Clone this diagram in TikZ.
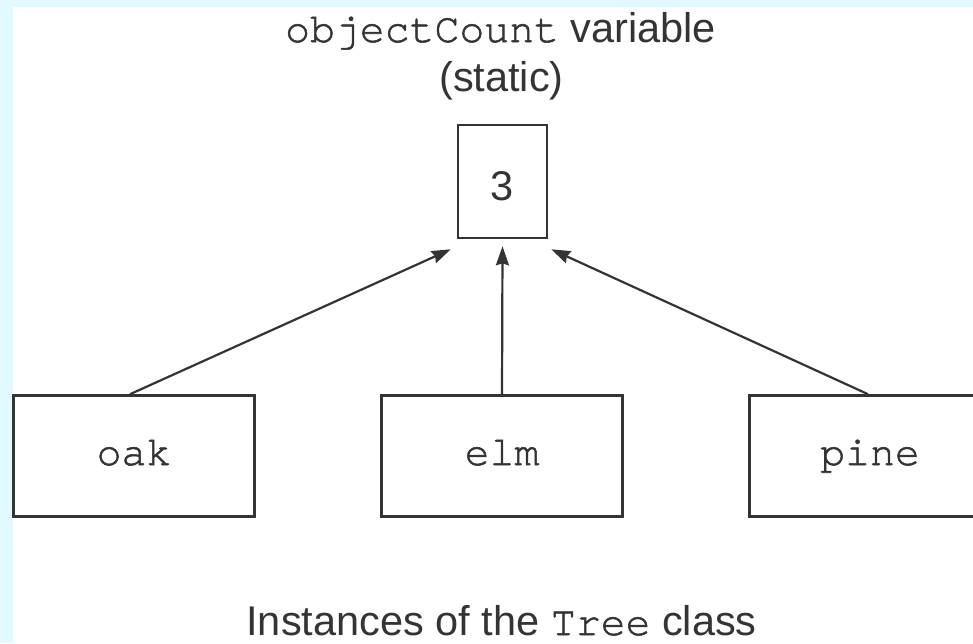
\documentclass[tikz,border=0pt]{standalone}
\usepackage{fontspec}
\setmainfont{Liberation Sans}
\setmonofont[FakeBold=1.3]{TeX Gyre Cursor}
\usetikzlibrary{arrows.meta}
\definecolor{edgecyan}{RGB}{225,249,255}
\definecolor{ink}{RGB}{52,52,52}
\tikzset{
  bigfont/.style={font=\fontsize{41.5}{48}\selectfont},
  treebox/.style={draw=ink, line width=2.6pt, minimum width=241pt, minimum height=121pt,
    inner sep=0pt, text=ink, font=\fontsize{41.5}{48}\selectfont\ttfamily,
    text height=18pt, text depth=0pt},
  countbox/.style={draw=ink, line width=2.6pt, minimum width=89pt, minimum height=113pt,
    inner sep=0pt, text=ink, bigfont, text height=37pt, text depth=0pt},
  caption/.style={bigfont, text=ink, inner sep=0pt, anchor=base},
  link/.style={draw=ink, line width=2.2pt,
    -{Stealth[length=19pt,width=13pt,inset=2pt]}}
}
\begin{document}
\begin{tikzpicture}[x=1pt,y=-1pt]
  % page area with a light cyan frame on the left and top
  \fill[edgecyan] (0,0) rectangle (973,643);
  \fill[white] (13,7) rectangle (973,643);
  \useasboundingbox (0,0) rectangle (973,643);
  \clip (0,0) rectangle (973,643);

  % static counter
  \node[caption] (title) at (500.5,42) {\texttt{objectCount} variable};
  \node[caption] (kind) at (501.5,91) {(static)};
  \node[countbox] (count) at (502.5,181.5) {3};

  % instances
  \node[treebox] (oak)  at (134,456) {oak};
  \node[treebox] (elm)  at (502,456) {elm};
  \node[treebox] (pine) at (870,456) {pine};

  \node[caption] (note) at (501.5,635) {Instances of the \texttt{Tree} class};

  % references to the shared counter
  \coordinate (tipL) at ([xshift=-6pt,yshift=-10pt]count.south west);
  \coordinate (tipR) at ([xshift=3pt,yshift=-10pt]count.south east);
  \draw[link] ([xshift=-4pt]oak.north) -- (tipL);
  \draw[link] (elm.north) -- ([yshift=-7pt]count.south);
  \draw[link] ([xshift=-2pt]pine.north) -- (tipR);
\end{tikzpicture}
\end{document}
